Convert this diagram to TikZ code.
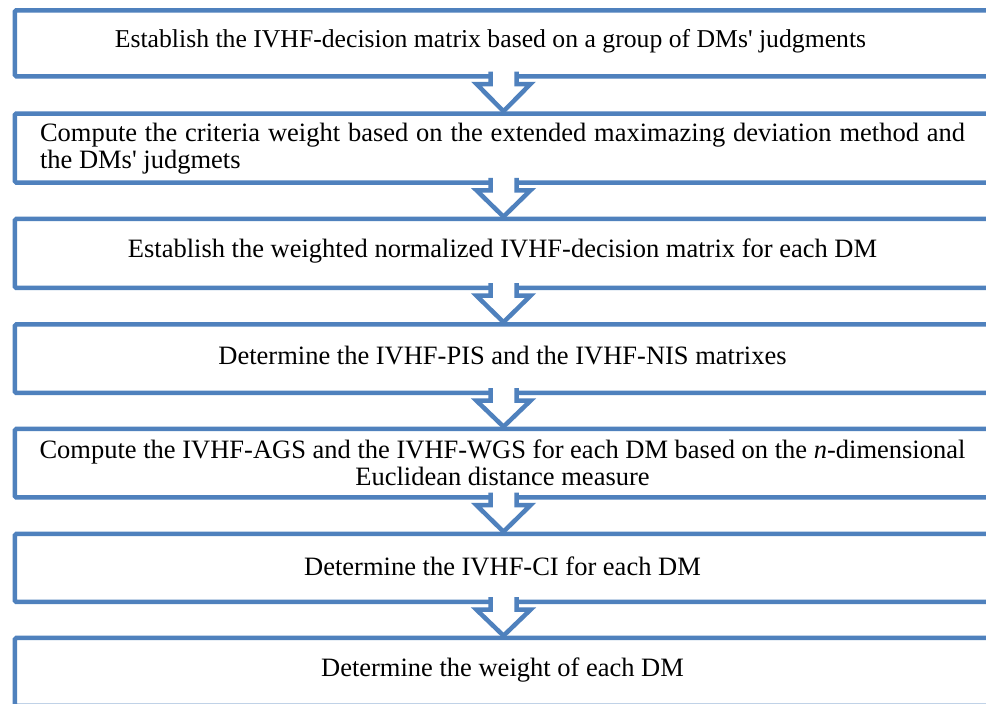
\documentclass[tikz,border=0pt]{standalone}
\usepackage{fontspec}
\setmainfont{Liberation Serif}
\definecolor{bl}{HTML}{4F81BD}
\tikzset{
  box/.style={draw=bl, line width=4.5pt, rounded corners=1.5pt, rectangle, inner sep=0pt,
    anchor=north west, minimum width=982pt},
  arrowline/.style={draw=bl, line width=4.5pt, line join=miter},
  txt/.style={font=\fontsize{26.5}{27}\selectfont, inner sep=0pt},
}
\newcommand{\downarr}[2]{%
  \fill[white] (490.5,{#1-2.5}) -- (490.5,{#1+10}) -- (476.5,{#1+10}) -- (503.5,{#2}) -- (530.5,{#1+10}) -- (516.5,{#1+10}) -- (516.5,{#1-2.5}) -- cycle;
  \draw[arrowline] (490.5,{#1-2.5}) -- (490.5,{#1+10}) -- (476.5,{#1+10}) -- (503.5,{#2}) -- (530.5,{#1+10}) -- (516.5,{#1+10}) -- (516.5,{#1-2.5});
}
\begin{document}
\begin{tikzpicture}[x=1pt,y=-1pt]
\useasboundingbox (0,0) rectangle (986,704);
\clip (0,0) rectangle (986,704);
\fill[white] (0,0) rectangle (986,704);
\node[box, minimum height=66pt] (b1) at (12.5,8) {};
\node[box, minimum height=69pt] (b2) at (12.5,111.3) {};
\node[box, minimum height=69pt] (b3) at (12.5,216.7) {};
\node[box, minimum height=68.5pt] (b4) at (12.5,322.2) {};
\node[box, minimum height=68.5pt] (b5) at (12.5,426.7) {};
\node[box, minimum height=68pt] (b6) at (12.5,531.7) {};
\node[box, minimum height=68pt] (b7) at (12.5,635.7) {};
% texts
\node[txt, font=\fontsize{25.7}{27}\selectfont] (t1) at (490.5,41) {Establish the IVHF-decision matrix based on a group of DMs\textquotesingle\ judgments};
\node[txt, text width=925pt, align=justify] (t2) at (502.5,149) {Compute the criteria weight based on the extended maximazing deviation method and\linebreak the DMs\textquotesingle\ judgmets};
\node[txt] (t3) at (502.5,251) {Establish the weighted normalized IVHF-decision matrix for each DM};
\node[txt] (t4) at (502.5,356) {Determine the IVHF-PIS and the IVHF-NIS matrixes};
\node[txt, align=center] (t5) at (502.5,463) {Compute the IVHF-AGS and the IVHF-WGS for each DM based on the \textit{n}-dimensional\\Euclidean distance measure};
\node[txt] (t6) at (502.5,566) {Determine the IVHF-CI for each DM};
\node[txt] (t7) at (502.5,670) {Determine the weight of each DM};
% arrows
\downarr{74}{111.3}
\downarr{180.3}{216.7}
\downarr{285.7}{322.2}
\downarr{390.7}{426.7}
\downarr{495.2}{531.7}
\downarr{599.7}{635.7}
\end{tikzpicture}
\end{document}
